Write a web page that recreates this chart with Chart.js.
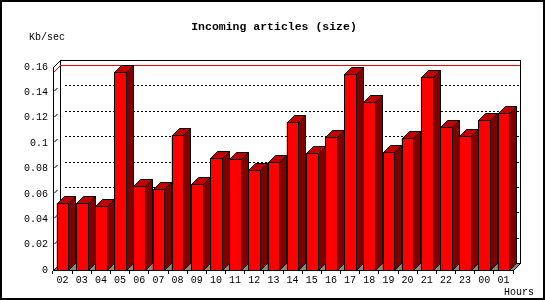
<!DOCTYPE html>
<html>
<head>
<meta charset="utf-8">
<script src="https://cdn.jsdelivr.net/npm/chart.js@4"></script>
<style>
  body { margin: 0; background: #fff; }
  canvas { display: block; }
</style>
</head>
<body>
<canvas id="sizeChart" width="550" height="300"></canvas>
<script>
// data
const hours = ["02", "03", "04", "05", "06", "07", "08", "09", "10", "11", "12", "13",
               "14", "15", "16", "17", "18", "19", "20", "21", "22", "23", "00", "01"];
const kbPerSec = [0.0526, 0.0526, 0.0505, 0.1560, 0.0663, 0.0637, 0.1063, 0.0676, 0.0882, 0.0874, 0.0787, 0.0850,
                  0.1166, 0.0921, 0.1047, 0.1545, 0.1324, 0.0929, 0.1039, 0.1521, 0.1126, 0.1055, 0.1181, 0.1237];
const yTicks = [0, 0.02, 0.04, 0.06, 0.08, 0.1, 0.12, 0.14, 0.16];

const titleText = "Incoming articles (size)";
const yUnit = "Kb/sec";
const xUnit = "Hours";

const DEPTH = 7;
const MONO = "'Liberation Mono', 'DejaVu Sans Mono', monospace";

// draws the frame, back wall, floor, dotted grid and the max line
const backdrop = {
  id: "backdrop",
  beforeDraw(chart) {
    const ctx = chart.ctx;
    const area = chart.chartArea;
    const y = chart.scales.y;
    const L = Math.round(area.left), R = Math.round(area.right);
    const T = Math.round(y.getPixelForValue(yTicks[yTicks.length - 1]));
    const B = Math.round(y.getPixelForValue(0));
    const D = DEPTH;

    ctx.save();
    ctx.fillStyle = "#fff";
    ctx.fillRect(0, 0, chart.width, chart.height);

    // outer frame
    ctx.fillStyle = "#000";
    ctx.fillRect(0, 0, 545, 2);
    ctx.fillRect(0, 0, 2, 300);
    ctx.fillRect(543, 0, 2, 300);
    ctx.fillRect(0, 298, 545, 2);

    ctx.lineWidth = 1;
    ctx.strokeStyle = "#000";

    // floor
    ctx.beginPath();
    ctx.moveTo(L + 0.5, B + 0.5);
    ctx.lineTo(R + 0.5, B + 0.5);
    ctx.lineTo(R + D + 0.5, B - D + 0.5);
    ctx.lineTo(L + D + 0.5, B - D + 0.5);
    ctx.closePath();
    ctx.fillStyle = "#888";
    ctx.fill();
    ctx.stroke();

    // back wall
    ctx.strokeRect(L + D + 0.5, T - D + 0.5, R - L, B - T);
    // top-left edge of the left wall
    ctx.beginPath();
    ctx.moveTo(L + 0.5, T + 0.5);
    ctx.lineTo(L + D + 0.5, T - D + 0.5);
    ctx.stroke();

    // dotted grid on back wall + small stubs on the left wall
    yTicks.forEach(v => {
      if (v === 0 || v === yTicks[yTicks.length - 1]) return;
      const py = Math.round(y.getPixelForValue(v));
      ctx.setLineDash([2, 2]);
      ctx.beginPath();
      ctx.moveTo(L + D + 5, py - D + 0.5);
      ctx.lineTo(R + D, py - D + 0.5);
      ctx.stroke();
      ctx.setLineDash([]);
      ctx.beginPath();
      ctx.moveTo(L + 1.5, py - 1);
      ctx.lineTo(L + 4.5, py - 4);
      ctx.stroke();
    });

    // red line at the maximum
    const maxY = Math.round(y.getPixelForValue(Math.max(...kbPerSec)));
    ctx.strokeStyle = "#ff0000";
    ctx.beginPath();
    ctx.moveTo(L + 0.5, maxY + 0.5);
    ctx.lineTo(L + D + 0.5, maxY - D + 0.5);
    ctx.lineTo(R + D, maxY - D + 0.5);
    ctx.stroke();

    // texts
    ctx.fillStyle = "#000";
    ctx.textBaseline = "middle";
    ctx.textAlign = "center";
    ctx.font = "bold 11.5px " + MONO;
    ctx.fillText(titleText, 274, 27);
    ctx.textAlign = "left";
    ctx.font = "10px " + MONO;
    ctx.fillText(yUnit, 29, 37);
    ctx.fillText(xUnit, 504, 292);
    ctx.restore();
  },

  // 3d faces on top of each bar that Chart.js placed
  afterDatasetsDraw(chart) {
    const ctx = chart.ctx;
    const meta = chart.getDatasetMeta(0);
    const D = DEPTH;
    ctx.save();
    ctx.lineWidth = 1;
    ctx.strokeStyle = "#000";
    meta.data.forEach(bar => {
      const p = bar.getProps(["x", "y", "base", "width"], true);
      const xl = Math.round(p.x - p.width / 2);
      const xr = Math.round(p.x + p.width / 2);
      const yt = Math.round(p.y);
      const yb = Math.round(p.base);

      // side
      ctx.beginPath();
      ctx.moveTo(xr + 0.5, yt + 0.5);
      ctx.lineTo(xr + D + 0.5, yt - D + 0.5);
      ctx.lineTo(xr + D + 0.5, yb - D + 0.5);
      ctx.lineTo(xr + 0.5, yb + 0.5);
      ctx.closePath();
      ctx.fillStyle = "#800000";
      ctx.fill();
      ctx.stroke();

      // top
      ctx.beginPath();
      ctx.moveTo(xl + 0.5, yt + 0.5);
      ctx.lineTo(xl + D + 0.5, yt - D + 0.5);
      ctx.lineTo(xr + D + 0.5, yt - D + 0.5);
      ctx.lineTo(xr + 0.5, yt + 0.5);
      ctx.closePath();
      ctx.fillStyle = "#c00000";
      ctx.fill();
      ctx.stroke();

      // front
      ctx.fillStyle = "#ff0000";
      ctx.fillRect(xl, yt, xr - xl, yb - yt);
      ctx.strokeRect(xl + 0.5, yt + 0.5, xr - xl, yb - yt);
    });

    // front baseline again
    const area = chart.chartArea;
    const yb = Math.round(chart.scales.y.getPixelForValue(0));
    ctx.beginPath();
    ctx.moveTo(Math.round(area.left), yb + 0.5);
    ctx.lineTo(Math.round(area.right) + 1, yb + 0.5);
    ctx.stroke();
    ctx.restore();
  }
};

new Chart(document.getElementById("sizeChart"), {
  type: "bar",
  data: {
    labels: hours,
    datasets: [{
      label: yUnit,
      data: kbPerSec,
      backgroundColor: "#ff0000",
      borderWidth: 0,
      categoryPercentage: 1,
      barPercentage: 0.61
    }]
  },
  options: {
    responsive: false,
    animation: false,
    devicePixelRatio: 1,
    layout: { padding: { top: 67, right: 37, left: 0, bottom: 0 } },
    plugins: {
      legend: { display: false },
      tooltip: { enabled: false },
      title: { display: false }
    },
    scales: {
      x: {
        offset: true,
        afterFit: s => { s.height = 30; },
        grid: { display: true, drawOnChartArea: false, drawTicks: true, tickLength: 4, color: "#000", offset: true },
        border: { display: true, color: "#000" },
        ticks: { padding: 0, color: "#000", font: { family: MONO, size: 10 }, maxRotation: 0, autoSkip: false }
      },
      y: {
        min: 0,
        max: yTicks[yTicks.length - 1],
        afterFit: s => { s.width = 53; },
        afterBuildTicks: s => { s.ticks = yTicks.map(v => ({ value: v })); },
        grid: { display: false, drawTicks: false, tickLength: 0 },
        border: { display: true, color: "#000" },
        ticks: {
          padding: 5,
          color: "#000",
          font: { family: MONO, size: 10 },
          callback: v => String(parseFloat(v.toFixed(2)))
        }
      }
    }
  },
  plugins: [backdrop]
});
</script>
</body>
</html>
